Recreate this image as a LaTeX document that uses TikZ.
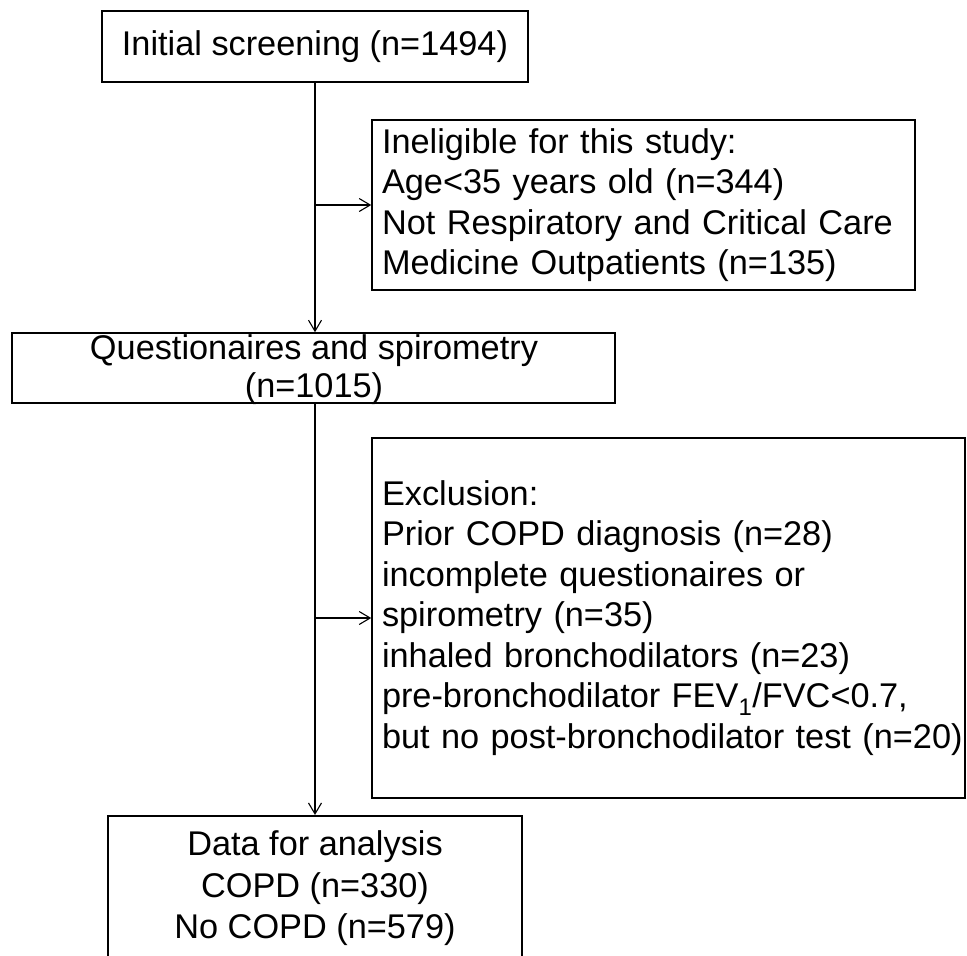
\documentclass[tikz,border=0pt]{standalone}
\usepackage{fontspec}
\setmainfont{Liberation Sans}
\usetikzlibrary{arrows.meta}
\begin{document}
\begin{tikzpicture}[x=1pt,y=-1pt,
  box/.style={draw=black, line width=1.5pt, inner sep=0pt,
    font=\fontsize{34.3}{40.5}\selectfont},
  flow/.style={line width=1.3pt,
    -{Straight Barb[length=11pt,width=13pt,line width=1.1pt]}},
]
\clip (0,0) rectangle (967,956);
\fill[white] (0,0) rectangle (967,956);

\node[box, minimum width=426pt, minimum height=71pt, align=center]
  (init) at (315,46.5) {Initial screening (n=1494)};

\node[box, minimum height=170pt, inner xsep=10pt, text width=523pt, align=left]
  (inel) at (643.5,205)
  {Ineligible for this study:\\
   Age<35 years old (n=344)\\
   \mbox{Not Respiratory and Critical Care}\\
   \mbox{Medicine Outpatients (n=135)}};

\node[box, minimum width=603pt, minimum height=70pt] (quest) at (313.5,368) {};
\node[inner sep=0pt, align=center, font=\fontsize{34.3}{38}\selectfont]
  (questtext) at (314,370) {Questionaires and spirometry\\(n=1015)};

\node[box, minimum height=360pt, inner xsep=10pt, text width=573pt, align=left]
  (excl) at (668.5,618)
  {Exclusion:\\
   \mbox{Prior COPD diagnosis (n=28)}\\
   \mbox{incomplete questionaires or}\\
   \mbox{spirometry (n=35)}\\
   \mbox{inhaled bronchodilators (n=23)}\\
   \mbox{pre-bronchodilator FEV\textsubscript{1}/FVC<0.7,}\\
   \mbox{but no post-bronchodilator test (n=20)}};

\node[box, anchor=north, minimum width=414pt, inner ysep=15pt, align=center,
  font=\fontsize{34.3}{41.5}\selectfont]
  (data) at (315,815) {Data for analysis\\COPD (n=330)\\No COPD (n=579)};

\coordinate (j1) at (init.south |- inel.west);
\coordinate (j2) at (data.north |- excl.west);
\draw[flow] (init.south) -- (init.south |- quest.north);
\draw[flow] (j1) -- (inel.west);
\draw[flow] (data.north |- quest.south) -- (data.north);
\draw[flow] (j2) -- (excl.west);
\end{tikzpicture}
\end{document}
